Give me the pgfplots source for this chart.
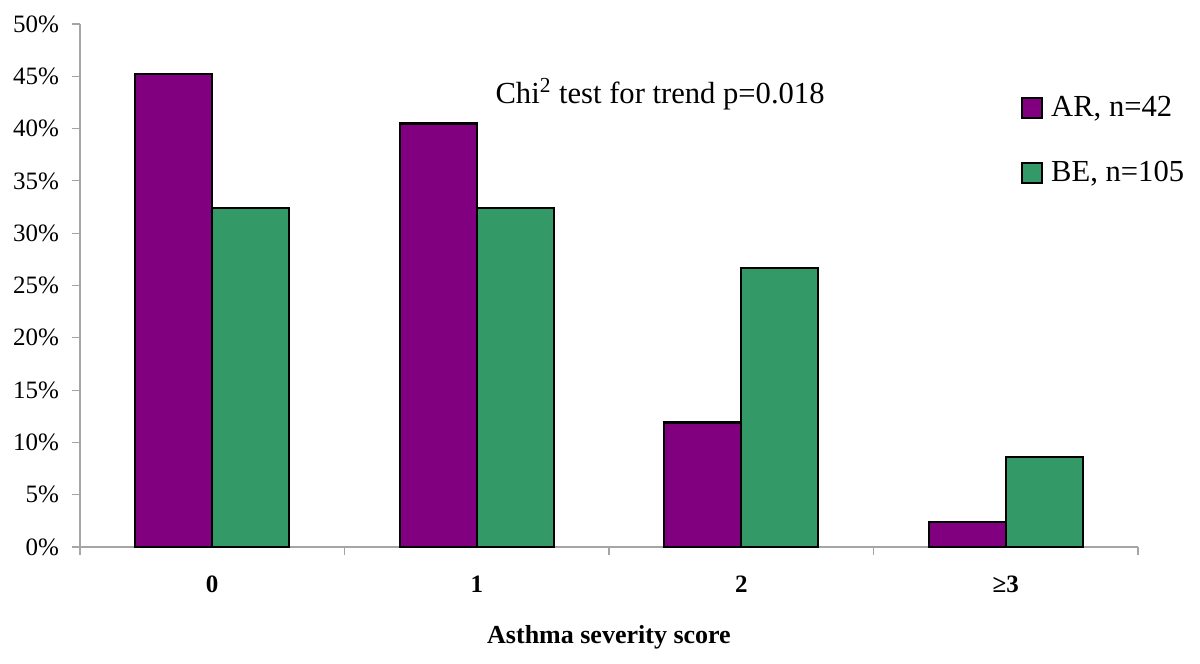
\documentclass[border=0pt]{standalone}
\usepackage{fontspec}
\setmainfont{Liberation Serif}
\usepackage{pgfplots}
\pgfplotsset{compat=1.18}
\definecolor{arpurple}{RGB}{128,0,128}
\definecolor{begreen}{RGB}{51,153,102}
\definecolor{axgray}{RGB}{165,165,165}
\begin{document}
\begin{tikzpicture}
\path[use as bounding box] (-40pt,-58.5pt) rectangle (560pt,273.5pt);
\begin{axis}[
  scale only axis, width=529pt, height=261.5pt,
  ybar=0pt, bar width=0.291,
  xmin=-0.5, xmax=3.5, ymin=0, ymax=50,
  axis x line*=bottom, axis y line*=left,
  axis line style={axgray, line width=0.6pt},
  tick style={axgray, line width=0.6pt},
  tick align=outside, major tick length=4pt,
  xtick={-0.5,0.5,1.5,2.5,3.5}, xticklabels={,,,,},
  extra x ticks={0,1,2,3},
  extra x tick labels={0,1,2,≥3},
  extra x tick style={major tick length=0pt,
    tick label style={font=\fontsize{12.5}{14}\selectfont\bfseries, yshift=-11pt}},
  ytick={0,5,...,50},
  yticklabel={\pgfmathprintnumber{\tick}\%},
  yticklabel style={font=\fontsize{12.5}{14}\selectfont, xshift=-3pt},
  /pgf/number format/assume math mode=true,
  xlabel={Asthma severity score},
  xlabel style={font=\fontsize{13}{15}\selectfont\bfseries, at={(axis description cs:0.5,0)}, anchor=center, yshift=-45pt},
  legend style={draw=none, fill=none, at={(rel axis cs:0.8835,0.878)}, anchor=north west,
    font=\fontsize{15.3}{17}\selectfont, row sep=17pt},
  legend cell align=left,
  legend image code/.code={\draw[#1] (0pt,-5pt) rectangle (10pt,5pt); \path[draw=none,fill=none] (10pt,0pt) -- (12.5pt,0pt);},
]
\addplot[fill=arpurple, draw=black, line width=1.1pt] coordinates {
(0,45.24) (1,40.48) (2,11.90) (3,2.38)
};
\addplot[fill=begreen, draw=black, line width=1.1pt] coordinates {
(0,32.38) (1,32.38) (2,26.67) (3,8.57)
};
\legend{{AR, n=42},{BE, n=105}}
\node[font=\fontsize{15.3}{17}\selectfont] at (axis cs:1.693,43.3) {Chi\textsuperscript{2} test for trend p=0.018};
\end{axis}
\end{tikzpicture}
\end{document}
